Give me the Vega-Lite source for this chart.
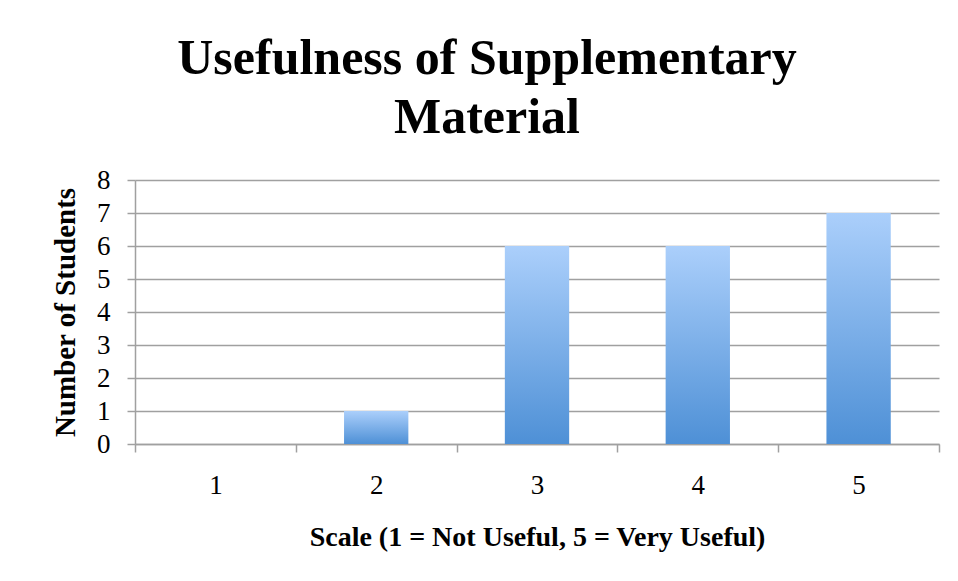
{
  "$schema": "https://vega.github.io/schema/vega-lite/v6.json",
  "autosize": "none",
  "width": 804,
  "height": 264,
  "padding": {"left": 135, "top": 180, "right": 19, "bottom": 137},
  "background": "white",
  "title": {
    "text": ["Usefulness of Supplementary", "Material"],
    "font": "Liberation Serif",
    "fontSize": 50,
    "fontWeight": "bold",
    "lineHeight": 59,
    "color": "black",
    "anchor": "middle",
    "frame": "group",
    "dx": -50,
    "baseline": "bottom",
    "offset": -27
  },
  "data": {
    "values": [
      {"scale": "1", "students": 0},
      {"scale": "2", "students": 1},
      {"scale": "3", "students": 6},
      {"scale": "4", "students": 6},
      {"scale": "5", "students": 7}
    ]
  },
  "mark": {
    "type": "bar",
    "width": {"band": 0.4},
    "color": {
      "gradient": "linear",
      "x1": 0, "y1": 0, "x2": 0, "y2": 1,
      "stops": [
        {"offset": 0, "color": "#abcffb"},
        {"offset": 1, "color": "#4e90d6"}
      ]
    }
  },
  "encoding": {
    "x": {
      "field": "scale",
      "type": "ordinal",
      "scale": {"paddingInner": 0, "paddingOuter": 0},
      "axis": {
        "title": "Scale (1 = Not Useful, 5 = Very Useful)",
        "labelAngle": 0,
        "tickBand": "extent",
        "grid": false,
        "tickSize": 8,
        "labelPadding": 20,
        "titlePadding": 25,
        "titleFontSize": 28
      }
    },
    "y": {
      "field": "students",
      "type": "quantitative",
      "scale": {"domain": [0, 8], "nice": false},
      "axis": {
        "title": "Number of Students",
        "values": [0, 1, 2, 3, 4, 5, 6, 7, 8],
        "format": "d",
        "tickSize": 8,
        "labelPadding": 17,
        "titlePadding": 16,
        "titleFontSize": 29,
        "grid": true
      }
    }
  },
  "config": {
    "view": {"stroke": null},
    "axis": {
      "labelFont": "Liberation Serif",
      "labelFontSize": 27,
      "labelColor": "black",
      "titleFont": "Liberation Serif",
      "titleFontWeight": "bold",
      "titleColor": "black",
      "domainColor": "#a0a0a0",
      "domainWidth": 1.5,
      "tickColor": "#a0a0a0",
      "tickWidth": 1.5,
      "gridColor": "#a0a0a0",
      "gridWidth": 1.5,
      "gridOpacity": 1
    }
  }
}
